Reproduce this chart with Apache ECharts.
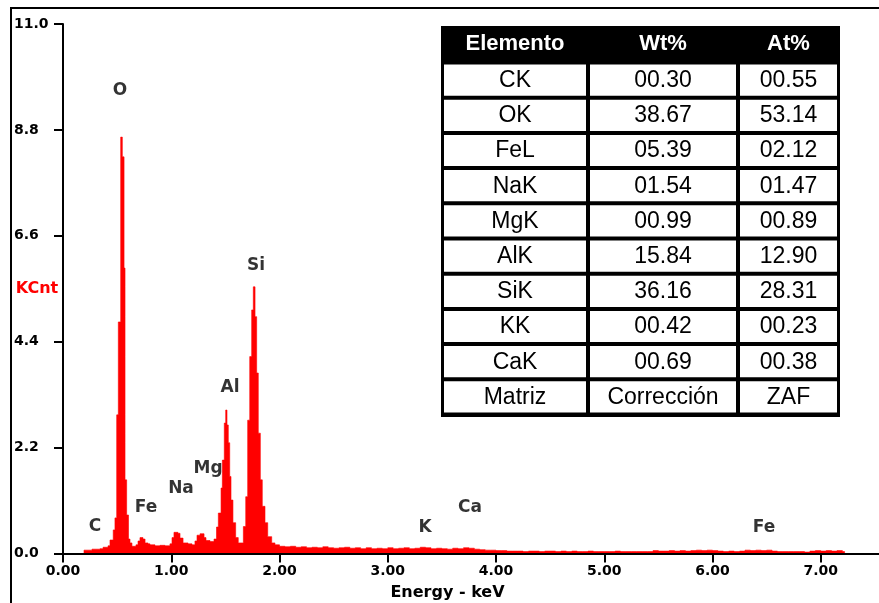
<!DOCTYPE html>
<html>
<head>
<meta charset="utf-8">
<script src="https://cdn.jsdelivr.net/npm/echarts@6/dist/echarts.min.js"></script>
<style>html,body{margin:0;padding:0;background:#fff}#c{width:879px;height:603px}</style>
</head>
<body>
<div id="c"></div>
<script>
// ---- Spectrum data (channel start energy in keV, counts in KCnt; last energy closes the final channel) ----
const energy = [0.194,0.268,0.342,0.370,0.416,0.434,0.464,0.480,0.496,0.511,0.533,0.548,0.564,0.573,0.588,0.605,0.619,0.637,0.674,0.693,0.711,0.739,0.758,0.785,0.804,0.850,0.896,0.942,0.988,1.007,1.025,1.062,1.081,1.109,1.155,1.192,1.219,1.238,1.266,1.303,1.321,1.358,1.395,1.418,1.435,1.460,1.472,1.490,1.503,1.515,1.527,1.540,1.552,1.570,1.595,1.619,1.666,1.688,1.706,1.725,1.743,1.758,1.774,1.789,1.804,1.823,1.841,1.866,1.891,1.928,1.958,
2.00,2.05,2.10,2.15,2.20,2.25,2.30,2.35,2.40,2.45,2.50,2.55,2.60,2.65,2.70,2.75,2.80,2.85,2.90,2.95,3.00,3.05,3.10,3.15,3.20,3.25,3.30,3.35,3.40,3.45,3.50,3.55,3.60,3.65,3.70,3.75,3.80,3.85,3.90,3.95,4.00,4.05,4.10,4.15,4.20,4.25,4.30,4.35,4.40,4.45,4.50,4.55,4.60,4.65,4.70,4.75,4.80,4.85,4.90,4.95,5.00,5.05,5.10,5.15,5.20,5.25,5.30,5.35,5.40,5.45,5.50,5.55,5.60,5.65,5.70,5.75,5.80,5.85,5.90,5.95,6.00,6.05,6.10,6.15,6.20,6.25,6.30,6.35,6.40,6.45,6.50,6.55,6.60,6.65,6.70,6.75,6.80,6.85,6.90,6.95,7.00,7.05,7.10,7.15,7.20,7.22];
const counts = [0.07,0.09,0.10,0.13,0.16,0.28,0.49,0.74,2.88,4.81,8.65,8.24,5.93,1.53,0.80,0.30,0.22,0.15,0.18,0.26,0.33,0.30,0.22,0.20,0.18,0.16,0.17,0.16,0.20,0.33,0.44,0.42,0.32,0.22,0.20,0.18,0.26,0.38,0.41,0.33,0.27,0.25,0.30,0.55,0.84,1.36,1.94,2.71,2.98,2.67,2.30,1.60,1.11,0.64,0.33,0.22,0.56,1.18,2.77,4.09,5.06,5.54,4.92,3.75,2.50,1.53,0.98,0.64,0.35,0.22,0.18,
0.15,0.14,0.15,0.13,0.14,0.12,0.13,0.12,0.14,0.12,0.11,0.12,0.13,0.11,0.12,0.10,0.12,0.10,0.11,0.10,0.12,0.10,0.11,0.12,0.10,0.11,0.13,0.12,0.10,0.11,0.10,0.09,0.11,0.10,0.12,0.11,0.09,0.08,0.07,0.07,0.06,0.06,0.05,0.05,0.05,0.04,0.05,0.05,0.04,0.05,0.05,0.04,0.05,0.04,0.05,0.04,0.04,0.05,0.04,0.04,0.04,0.04,0.05,0.04,0.04,0.04,0.04,0.04,0.04,0.06,0.05,0.05,0.06,0.05,0.06,0.05,0.06,0.07,0.06,0.07,0.06,0.05,0.04,0.05,0.04,0.05,0.07,0.06,0.07,0.06,0.07,0.05,0.04,0.04,0.04,0.04,0.04,0.03,0.05,0.06,0.05,0.06,0.05,0.06,0.04];

// ---- Peak annotations ----
const peakNames  = ['O', 'Si', 'Al', 'Mg', 'Na', 'Fe', 'C', 'K', 'Ca', 'Fe'];
const peakEnergy = [0.527, 1.783, 1.543, 1.340, 1.090, 0.767, 0.296, 3.344, 3.760, 6.476];
const peakHeight = [9.62, 5.99, 3.44, 1.76, 1.34, 0.95, 0.55, 0.53, 0.95, 0.53];

// ---- Axis ticks ----
const yTickStep = 2.2;
const xTickStep = 1;

// ---- Composition table ----
const tableHeaders = ['Elemento', 'Wt%', 'At%'];
const elementos = ['CK', 'OK', 'FeL', 'NaK', 'MgK', 'AlK', 'SiK', 'KK', 'CaK', 'Matriz'];
const wtPct     = ['00.30', '38.67', '05.39', '01.54', '00.99', '15.84', '36.16', '00.42', '00.69', 'Corrección'];
const atPct     = ['00.55', '53.14', '02.12', '01.47', '00.89', '12.90', '28.31', '00.23', '00.38', 'ZAF'];

// ---- Channels: [start, end, counts] ----
const channels = counts.map((c, i) => [energy[i], energy[i + 1], c]);

// ---- Build table graphics ----
const tbl = { x0: 441, y0: 26, x1: 840, y1: 417, headBottom: 62.5, rowH: 35.2,
  cols: [[444, 586], [590, 736], [740, 837]] };
const graphics = [];
graphics.push({ type: 'line', shape: { x1: 11, y1: 8, x2: 11, y2: 603 }, style: { stroke: '#000', lineWidth: 2 } });
graphics.push({ type: 'line', shape: { x1: 10, y1: 8, x2: 879, y2: 8 }, style: { stroke: '#000', lineWidth: 2 } });
graphics.push({ type: 'rect', shape: { x: tbl.x0, y: tbl.y0, width: tbl.x1 - tbl.x0, height: tbl.y1 - tbl.y0 }, style: { fill: '#000' }, z: 100 });
tableHeaders.forEach((h, c) => {
  const cx = (tbl.cols[c][0] + tbl.cols[c][1]) / 2;
  graphics.push({ type: 'text', z: 102, style: { text: h, x: cx, y: (tbl.y0 + tbl.headBottom) / 2,
    fill: '#fff', font: 'bold 22px "Liberation Sans", Arial, sans-serif', align: 'center', verticalAlign: 'middle', textAlign: 'center', textVerticalAlign: 'middle' } });
});
elementos.forEach((el, r) => {
  const ya = tbl.headBottom + tbl.rowH * r + 2;
  const yb = tbl.headBottom + tbl.rowH * (r + 1) - 2;
  [el, wtPct[r], atPct[r]].forEach((txt, c) => {
    const [xa, xb] = tbl.cols[c];
    graphics.push({ type: 'rect', z: 101, shape: { x: xa, y: ya, width: xb - xa, height: yb - ya }, style: { fill: '#fff' } });
    graphics.push({ type: 'text', z: 102, style: { text: txt, x: (xa + xb) / 2, y: (ya + yb) / 2 + 0.5,
      fill: '#000', font: '23px "Liberation Sans", Arial, sans-serif', align: 'center', verticalAlign: 'middle', textAlign: 'center', textVerticalAlign: 'middle' } });
  });
});

const axisFont = { fontFamily: 'DejaVu Sans', fontWeight: 'bold', fontSize: 14, color: '#000' };

const chart = echarts.init(document.getElementById('c'), null, { renderer: 'canvas' });
chart.setOption({
  animation: false,
  backgroundColor: '#fff',
  grid: { left: 63, right: 0, top: 24, bottom: 49.5, containLabel: false, outerBoundsMode: 'none' },
  xAxis: {
    type: 'value', min: 0, max: 7.538, interval: xTickStep, z: 10,
    name: 'Energy - keV', nameLocation: 'middle', nameGap: 31, nameMoveOverlap: false,
    nameTextStyle: { fontFamily: 'DejaVu Sans', fontWeight: 'bold', fontSize: 16, color: '#000', padding: [0, 47, 0, 0] },
    axisLine: { lineStyle: { color: '#000', width: 2 } },
    axisTick: { length: 9, lineStyle: { color: '#000', width: 2 } },
    axisLabel: Object.assign({ margin: 11, showMaxLabel: false, formatter: v => v.toFixed(2) }, axisFont),
    splitLine: { show: false }
  },
  yAxis: {
    type: 'value', min: 0, max: 11, interval: yTickStep, z: 10,
    name: 'KCnt', nameLocation: 'middle', nameRotate: 0, nameGap: 26, nameMoveOverlap: false,
    nameTextStyle: { fontFamily: 'DejaVu Sans', fontWeight: 'bold', fontSize: 16, color: '#ff0000', align: 'center', padding: [0, 0, 22, 0] },
    axisLine: { lineStyle: { color: '#000', width: 2 } },
    axisTick: { length: 9, lineStyle: { color: '#000', width: 2 } },
    axisLabel: Object.assign({ margin: 49, align: 'left', formatter: v => v.toFixed(1) }, axisFont),
    splitLine: { show: false }
  },
  series: [
    {
      // The whole spectrum is drawn as one stepped polygon (one channel per data item), mapped through the axes.
      type: 'custom', z: 2, silent: true,
      data: channels,
      encode: { x: [0, 1], y: 2 },
      renderItem: (params, api) => {
        if (params.dataIndex !== 0) return null;
        const pts = [api.coord([channels[0][0], 0])];
        channels.forEach(ch => {
          pts.push(api.coord([ch[0], ch[2]]));
          pts.push(api.coord([ch[1], ch[2]]));
        });
        pts.push(api.coord([channels[channels.length - 1][1], 0]));
        return { type: 'polygon', shape: { points: pts }, style: { fill: '#ff0000', stroke: '#ff0000', lineWidth: 0.6 } };
      }
    },
    {
      type: 'scatter', symbolSize: 1, z: 5,
      itemStyle: { color: 'transparent' },
      data: peakNames.map((n, i) => ({ name: n, value: [peakEnergy[i], peakHeight[i]] })),
      label: { show: true, position: 'inside', formatter: p => p.name,
        fontFamily: 'DejaVu Sans', fontWeight: 'bold', fontSize: 17, color: '#000' },
      silent: true
    }
  ],
  graphic: graphics
});
</script>
</body>
</html>
